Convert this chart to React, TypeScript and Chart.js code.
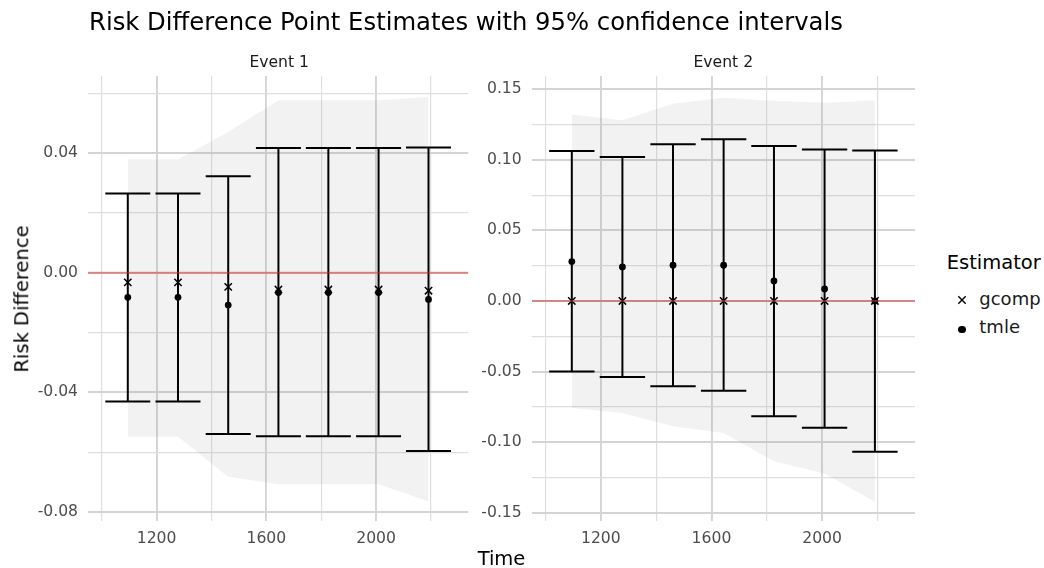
import React, { useEffect, useRef } from "react";
import { Chart, registerables } from "chart.js";

Chart.register(...registerables);
Chart.defaults.font.family = "'DejaVu Sans', sans-serif";

// ---------------- data ----------------
const times = [1095, 1278, 1461, 1644, 1826, 2009, 2191];

const e1Gcomp = [-0.0032, -0.0032, -0.0047, -0.0056, -0.0056, -0.0056, -0.006];
const e1Tmle = [-0.0082, -0.0082, -0.0108, -0.0066, -0.0066, -0.0066, -0.0089];
const e1Upper = [0.0265, 0.0265, 0.0323, 0.0417, 0.0417, 0.0417, 0.0419];
const e1Lower = [-0.043, -0.043, -0.0539, -0.0547, -0.0547, -0.0547, -0.0596];
const e1BandHi = [0.0379, 0.0379, 0.0471, 0.0577, 0.0577, 0.0577, 0.0588];
const e1BandLo = [-0.0548, -0.0548, -0.0682, -0.0707, -0.0707, -0.0707, -0.0765];

const e2Gcomp = [0, 0, 0, 0, 0, 0, 0];
const e2Tmle = [0.0279, 0.0241, 0.0253, 0.0253, 0.0142, 0.0085, 0.0];
const e2Upper = [0.1062, 0.102, 0.111, 0.1145, 0.1098, 0.1074, 0.1067];
const e2Lower = [-0.05, -0.0538, -0.0604, -0.0637, -0.0817, -0.0899, -0.1069];
const e2BandHi = [0.1322, 0.128, 0.1398, 0.144, 0.1416, 0.1405, 0.1421];
const e2BandLo = [-0.0758, -0.0793, -0.0887, -0.0935, -0.1135, -0.1222, -0.1423];

const capHalfWidth = 82;
const xMin = 950;
const xMax = 2336;
const xTicks = [1000, 1200, 1400, 1600, 1800, 2000, 2200];
const xLabeled = [1200, 1600, 2000];

const e1YMin = -0.083;
const e1YMax = 0.0658;
const e1YTicks = [-0.08, -0.06, -0.04, -0.02, 0, 0.02, 0.04, 0.06];
const e1YLabeled = [-0.08, -0.04, 0, 0.04];

const e2YMin = -0.1559;
const e2YMax = 0.1594;
const e2YTicks = [-0.15, -0.125, -0.1, -0.075, -0.05, -0.025, 0, 0.025, 0.05, 0.075, 0.1, 0.125, 0.15];
const e2YLabeled = [-0.15, -0.1, -0.05, 0, 0.05, 0.1, 0.15];

// ---------------- helpers ----------------
const has = (arr: number[], v: number) => arr.some((a) => Math.abs(a - v) < 1e-9);

function errorBarPoints(lo: number[], hi: number[]) {
  const pts: { x: number; y: number | null }[] = [];
  times.forEach((t, i) => {
    pts.push({ x: t - capHalfWidth, y: hi[i] }, { x: t + capHalfWidth, y: hi[i] }, { x: t, y: null });
    pts.push({ x: t, y: hi[i] }, { x: t, y: lo[i] }, { x: t, y: null });
    pts.push({ x: t - capHalfWidth, y: lo[i] }, { x: t + capHalfWidth, y: lo[i] }, { x: t, y: null });
  });
  return pts;
}
const xy = (vals: number[]) => times.map((t, i) => ({ x: t, y: vals[i] }));

const MAJOR = "rgb(212,212,212)";
const MINOR = "rgb(222,222,222)";
const TICK_COLOR = "#4d4d4d";

interface PanelCfg {
  gcomp: number[];
  tmle: number[];
  upper: number[];
  lower: number[];
  bandHi: number[];
  bandLo: number[];
  yMin: number;
  yMax: number;
  yTicks: number[];
  yLabeled: number[];
  yAxisWidth: number;
  padRight: number;
}

function makeConfig(p: PanelCfg): any {
  return {
    type: "line",
    data: {
      datasets: [
        {
          label: "band-hi",
          data: xy(p.bandHi),
          borderWidth: 0,
          pointRadius: 0,
          fill: "+1",
          backgroundColor: "rgba(127,127,127,0.1)",
          borderColor: "rgba(0,0,0,0)",
          order: 5,
        },
        {
          label: "band-lo",
          data: xy(p.bandLo),
          borderWidth: 0,
          pointRadius: 0,
          fill: false,
          borderColor: "rgba(0,0,0,0)",
          order: 5,
        },
        {
          label: "errorbars",
          data: errorBarPoints(p.lower, p.upper),
          borderColor: "#000",
          borderWidth: 2,
          pointRadius: 0,
          fill: false,
          spanGaps: false,
          order: 3,
        },
        {
          label: "gcomp",
          data: xy(p.gcomp),
          showLine: false,
          pointStyle: "crossRot",
          pointRadius: 5.2,
          pointBorderWidth: 1.5,
          pointBorderColor: "#000",
          pointBackgroundColor: "#000",
          order: 2,
        },
        {
          label: "tmle",
          data: xy(p.tmle),
          showLine: false,
          pointStyle: "circle",
          pointRadius: 3.4,
          pointBorderWidth: 0,
          pointBackgroundColor: "#000",
          pointBorderColor: "#000",
          order: 1,
        },
        {
          label: "zero",
          data: [
            { x: xMin, y: 0 },
            { x: xMax, y: 0 },
          ],
          borderColor: "rgba(210,55,55,0.5)",
          borderWidth: 2,
          pointRadius: 0,
          fill: false,
          order: 0,
        },
      ],
    },
    options: {
      animation: false,
      responsive: false,
      events: [],
      layout: { padding: { top: 76, right: p.padRight, left: 0, bottom: 0 } },
      plugins: { legend: { display: false }, tooltip: { enabled: false }, title: { display: false } },
      scales: {
        x: {
          type: "linear",
          min: xMin,
          max: xMax,
          afterBuildTicks: (s: any) => {
            s.ticks = xTicks.map((v) => ({ value: v }));
          },
          afterFit: (s: any) => {
            s.height = 47;
          },
          ticks: {
            autoSkip: false,
            maxRotation: 0,
            padding: 9,
            color: TICK_COLOR,
            font: { size: 15.6 },
            callback: (v: number) => (has(xLabeled, v) ? String(v) : ""),
          },
          grid: {
            drawTicks: false,
            color: (ctx: any) => (ctx.tick && has(xLabeled, ctx.tick.value) ? MAJOR : MINOR),
            lineWidth: (ctx: any) => (ctx.tick && has(xLabeled, ctx.tick.value) ? 1.9 : 1.2),
          },
          border: { display: false },
        },
        y: {
          type: "linear",
          min: p.yMin,
          max: p.yMax,
          afterBuildTicks: (s: any) => {
            s.ticks = p.yTicks.map((v) => ({ value: v }));
          },
          afterFit: (s: any) => {
            s.width = p.yAxisWidth;
          },
          ticks: {
            autoSkip: false,
            padding: 10,
            color: TICK_COLOR,
            font: { size: 15.6 },
            callback: (v: number) => (has(p.yLabeled, v) ? v.toFixed(2) : ""),
          },
          grid: {
            drawTicks: false,
            color: (ctx: any) => (ctx.tick && has(p.yLabeled, ctx.tick.value) ? MAJOR : MINOR),
            lineWidth: (ctx: any) => (ctx.tick && has(p.yLabeled, ctx.tick.value) ? 1.9 : 1.2),
          },
          border: { display: false },
        },
      },
    },
  };
}

function Panel(props: { cfg: PanelCfg; left: number; width: number }) {
  const ref = useRef<HTMLCanvasElement | null>(null);
  useEffect(() => {
    if (!ref.current) return;
    const chart = new Chart(ref.current, makeConfig(props.cfg));
    return () => chart.destroy();
  }, []);
  return (
    <canvas
      ref={ref}
      width={props.width}
      height={568}
      style={{ position: "absolute", left: props.left, top: 0, width: props.width, height: 568 }}
    />
  );
}

const txt = (extra: React.CSSProperties): React.CSSProperties => ({
  position: "absolute",
  lineHeight: 1,
  whiteSpace: "nowrap",
  fontFamily: "'DejaVu Sans', sans-serif",
  ...extra,
});

export default function App() {
  const p1: PanelCfg = {
    gcomp: e1Gcomp,
    tmle: e1Tmle,
    upper: e1Upper,
    lower: e1Lower,
    bandHi: e1BandHi,
    bandLo: e1BandLo,
    yMin: e1YMin,
    yMax: e1YMax,
    yTicks: e1YTicks,
    yLabeled: e1YLabeled,
    yAxisWidth: 88,
    padRight: 475 - 470.7,
  };
  const p2: PanelCfg = {
    gcomp: e2Gcomp,
    tmle: e2Tmle,
    upper: e2Upper,
    lower: e2Lower,
    bandHi: e2BandHi,
    bandLo: e2BandLo,
    yMin: e2YMin,
    yMax: e2YMax,
    yTicks: e2YTicks,
    yLabeled: e2YLabeled,
    yAxisWidth: 531.7 - 475,
    padRight: 945 - 915,
  };
  return (
    <div
      style={{
        position: "fixed",
        left: 0,
        top: 0,
        width: 1044,
        height: 568,
        background: "#fff",
        overflow: "hidden",
      }}
    >
      <Panel cfg={p1} left={0} width={475} />
      <Panel cfg={p2} left={475} width={470} />

      <div style={txt({ left: 89, top: 10.4, fontSize: 24.3, color: "#000" })}>
        Risk Difference Point Estimates with 95% confidence intervals
      </div>
      <div style={txt({ left: 279.2, top: 54.5, fontSize: 15.6, color: "#1a1a1a", transform: "translateX(-50%)" })}>
        Event 1
      </div>
      <div style={txt({ left: 723.3, top: 54.5, fontSize: 15.6, color: "#1a1a1a", transform: "translateX(-50%)" })}>
        Event 2
      </div>
      <div
        style={txt({
          left: 22,
          top: 298.5,
          fontSize: 19.5,
          color: "#000",
          transform: "translate(-50%, -50%) rotate(-90deg)",
        })}
      >
        Risk Difference
      </div>
      <div style={txt({ left: 501.5, top: 549.4, fontSize: 19.5, color: "#000", transform: "translateX(-50%)" })}>
        Time
      </div>

      {/* legend */}
      <div style={txt({ left: 946.7, top: 252.5, fontSize: 19.5, color: "#000" })}>Estimator</div>
      <svg width={12} height={12} style={{ position: "absolute", left: 956, top: 294 }}>
        <path d="M2.3 2.3 L9.7 9.7 M9.7 2.3 L2.3 9.7" stroke="#000" strokeWidth={1.4} fill="none" />
      </svg>
      <div
        style={{
          position: "absolute",
          left: 958.4,
          top: 326.1,
          width: 7.2,
          height: 7.2,
          borderRadius: "50%",
          background: "#000",
        }}
      />
      <div style={txt({ left: 979.3, top: 289.8, fontSize: 18, color: "#1a1a1a" })}>gcomp</div>
      <div style={txt({ left: 979.3, top: 318.1, fontSize: 18, color: "#1a1a1a" })}>tmle</div>
    </div>
  );
}
